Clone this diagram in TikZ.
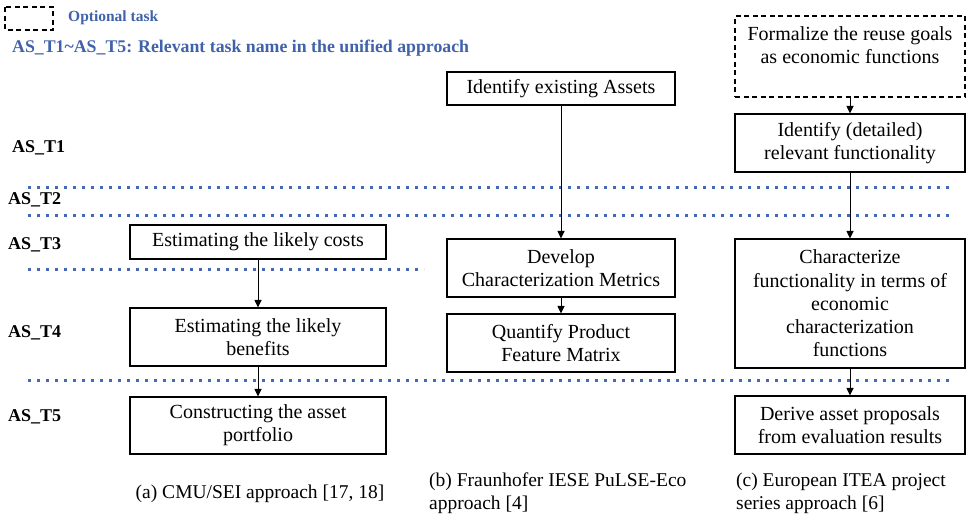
\documentclass[tikz,border=0pt]{standalone}
\usepackage{fontspec}
\setmainfont{Liberation Serif}
\usetikzlibrary{arrows.meta}

\definecolor{rowblue}{RGB}{68,104,180}
\definecolor{titleblue}{RGB}{64,98,170}

\tikzset{
  taskbox/.style={draw, line width=1.1pt, align=center, inner sep=0pt,
    font={\fontsize{20}{23.3}\selectfont}},
  optbox/.style={taskbox, dash pattern=on 5pt off 3.5pt},
  flow/.style={line width=1pt, -{Triangle[length=7.5pt,width=7pt]}},
  rowsep/.style={rowblue, line width=3pt, dash pattern=on 3.4pt off 5.6pt},
  rowlabel/.style={anchor=west, inner sep=0pt, font={\fontsize{18}{20}\selectfont\bfseries}},
  caption/.style={inner sep=0pt, font={\fontsize{19.5}{23}\selectfont}},
}

\begin{document}
\begin{tikzpicture}[x=1pt, y=-1pt]
\useasboundingbox (0,0) rectangle (968,515);

% legend
\draw[line width=1.1pt, dash pattern=on 5pt off 3.5pt] (5,7) rectangle (53,30);
\node[anchor=west, inner sep=0pt, text=titleblue, font={\fontsize{15.5}{17}\selectfont\bfseries}] (legend) at (68,18) {Optional task};
\node[anchor=west, inner sep=0pt, text=titleblue, font={\fontsize{17.8}{20}\selectfont\bfseries}] (title) at (12,48) {AS\_T1\textasciitilde AS\_T5: Relevant task name in the unified approach};

% separators between the unified task rows
\draw[rowsep] (28,187) -- (952,187);
\draw[rowsep] (28,215) -- (952,215);
\draw[rowsep] (28,269) -- (424,269);
\draw[rowsep] (28,380) -- (952,380);

% row labels
\node[rowlabel] (t1) at (12,148) {AS\_T1};
\node[rowlabel] (t2) at (8,200) {AS\_T2};
\node[rowlabel] (t3) at (8,245) {AS\_T3};
\node[rowlabel] (t4) at (8,333) {AS\_T4};
\node[rowlabel] (t5) at (8,417) {AS\_T5};

% (a) CMU/SEI
\node[taskbox, minimum width=256pt, minimum height=34pt] (costs) at (258,242) {Estimating the likely costs};
\node[taskbox, minimum width=256pt, minimum height=58pt] (benefits) at (258,337) {Estimating the likely\\benefits};
\node[taskbox, minimum width=256pt, minimum height=57pt] (portfolio) at (258,425.5) {Constructing the asset\\portfolio};

% (b) Fraunhofer IESE PuLSE-Eco
\node[taskbox, minimum width=228pt, minimum height=33pt] (assets) at (561,88.5) {Identify existing Assets};
\node[taskbox, minimum width=228pt, minimum height=58pt] (metrics) at (561,268) {Develop\\Characterization Metrics};
\node[taskbox, minimum width=228pt, minimum height=58pt] (matrix) at (561,343) {Quantify Product\\Feature Matrix};

% (c) European ITEA
\node[optbox, minimum width=230pt, minimum height=81pt] (goals) at (850,56.5) {Formalize the reuse goals\\as economic functions\\\mbox{}};
\node[taskbox, minimum width=230pt, minimum height=58pt] (functionality) at (850,143) {Identify (detailed)\\relevant functionality};
\node[taskbox, minimum width=230pt, minimum height=129pt] (characterize) at (850,303.5) {Characterize\\functionality in terms of\\economic\\characterization\\functions};
\node[taskbox, minimum width=230pt, minimum height=58pt] (proposals) at (850,425) {Derive asset proposals\\from evaluation results};

% flow
\draw[flow] (costs) -- (benefits);
\draw[flow] (benefits) -- (portfolio);
\draw[flow] (assets) -- (metrics);
\draw[flow] (metrics) -- (matrix);
\draw[flow] (goals) -- (functionality);
\draw[flow] (functionality) -- (characterize);
\draw[flow] (characterize) -- (proposals);

% captions
\node[caption] (capa) at (260,494) {(a) CMU/SEI approach [17, 18]};
\node[caption, anchor=west, align=left] (capb) at (429,493) {(b) Fraunhofer IESE PuLSE-Eco\\approach [4]};
\node[caption, anchor=west, align=left] (capc) at (736,493) {(c) European ITEA project\\series approach [6]};
\end{tikzpicture}
\end{document}
